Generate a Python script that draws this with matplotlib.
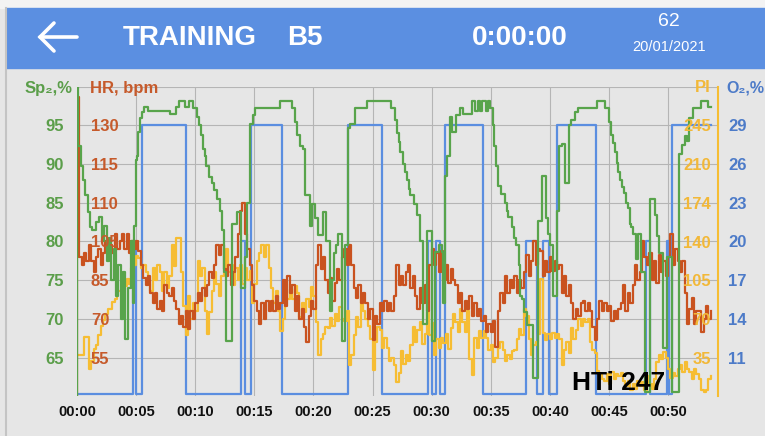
import numpy as np
import matplotlib
matplotlib.use("Agg")
import matplotlib.pyplot as plt
from matplotlib.lines import Line2D
from matplotlib.patches import Rectangle

# --- datos (tiempo en minutos) ---
time_ticks = [0, 5, 10, 15, 20, 25, 30, 35, 40, 45, 50]
time_labels = ["00:00", "00:05", "00:10", "00:15", "00:20", "00:25",
               "00:30", "00:35", "00:40", "00:45", "00:50"]

sp_ticks = [65, 70, 75, 80, 85, 90, 95]
hr_tick_labels = ["55", "70", "85", "105", "110", "115", "130"]
pi_ticks = [35, 70, 105, 140, 175, 210, 245]
pi_tick_labels = ["35", "70", "105", "140", "174", "210", "245"]
o2_ticks = [11, 14, 17, 20, 23, 26, 29]

# la escala HR de la app no es lineal: bpm -> nivel de la rejilla SpO2
hr_scale_bpm = [40, 55, 70, 85, 105, 110, 115, 130, 145]
hr_scale_pos = [60, 65, 70, 75, 80, 85, 90, 95, 100]

# SpO2 (%), escalones
sp_time = [0.00, 0.03, 0.12, 0.3, 0.5, 0.7, 0.9, 1.1, 1.3, 1.6,
           1.9, 2.1, 2.3, 2.5, 2.7, 2.9, 3.1, 3.3, 3.5, 3.7,
           3.9, 4.1, 4.35, 4.55, 4.7, 4.85, 4.95, 5.1, 5.2, 5.35,
           5.5, 5.7, 6.0, 7.9, 8.4, 8.6, 9.15, 9.45, 9.85, 10.15,
           10.3, 10.45, 10.65, 10.8, 10.95, 11.2, 11.45, 11.6, 11.85, 12.1,
           12.25, 12.45, 12.6, 13.1, 13.55, 13.9, 14.2, 14.4, 14.6, 14.85,
           15.1, 17.2, 18.2, 18.4, 18.6, 18.9, 19.1, 19.3, 19.5, 19.75,
           19.9, 20.1, 20.4, 20.8, 21.1, 21.4, 21.55, 21.7, 21.9, 22.1,
           22.4, 22.7, 22.95, 23.1, 23.5, 24.5, 26.6, 26.9, 27.05, 27.2,
           27.35, 27.6, 27.75, 27.9, 28.05, 28.2, 28.5, 28.8, 29.05, 29.3,
           29.6, 30.0, 30.3, 30.6, 30.85, 31.0, 31.1, 31.3, 31.55, 31.7,
           32.1, 32.4, 32.65, 33.4, 33.7, 33.9, 34.1, 34.3, 34.6, 34.75,
           34.95, 35.15, 35.3, 35.45, 35.6, 35.9, 36.2, 36.35, 36.5, 36.8,
           36.95, 37.1, 37.4, 37.5, 37.65, 37.8, 38.1, 38.6, 39.0, 39.3,
           39.65, 39.85, 40.0, 40.3, 40.6, 40.75, 41.0, 41.3, 41.6, 41.75,
           42.1, 42.4, 44.0, 44.7, 45.0, 45.2, 45.35, 45.5, 45.65, 45.8,
           45.95, 46.1, 46.25, 46.45, 46.6, 46.75, 46.9, 47.05, 47.25, 47.45,
           47.7, 48.05, 48.5, 48.9, 49.05, 49.2, 49.6, 49.9, 50.35, 50.95,
           51.15, 51.4, 51.6, 51.8, 52.1, 52.8, 53.4, 53.6]
sp_value = [60, 100, 92.4, 89.7, 88, 86, 83.8, 81.9, 81.5, 82.5,
            83.2, 80, 82, 77.5, 80.5, 75, 79, 73, 77, 70,
            76, 67.4, 74, 80, 72, 82, 90.5, 91, 94.2, 95.9,
            96.7, 97.4, 96.9, 96.5, 97.4, 98.2, 97.4, 98.2, 97.2, 96.1,
            95, 93.7, 92, 91, 89.8, 88.3, 87.5, 86.6, 85.5, 84,
            81.5, 76, 67.2, 82.3, 83.8, 74, 78, 85, 95.2, 96.3,
            97.2, 98.2, 97.2, 95.5, 93.7, 92.4, 92, 86, 86, 82,
            84.9, 83, 80.8, 83.8, 80, 71, 75, 78.5, 79.5, 81,
            67.2, 79.5, 94.6, 95.2, 97.2, 98.2, 97.2, 95.7, 94, 92.9,
            91.5, 90, 89, 87.9, 86.8, 86, 84.9, 83.4, 80, 69.4,
            81.4, 67.2, 78.7, 79.5, 78.7, 72, 88.5, 91, 96.1, 94.2,
            96.3, 97.2, 96.5, 98.2, 96.9, 98.2, 96.9, 98.2, 96.9, 98.2,
            97.2, 95, 92.4, 89.8, 87.2, 86.2, 85, 84, 83.2, 81.9,
            80.4, 79.5, 76.9, 73, 72.6, 70.9, 69.2, 62.3, 82.7, 88.5,
            83, 81, 79.5, 73, 84, 92.4, 92.6, 87.5, 95, 95.7,
            96.7, 97.2, 98.2, 97.2, 95.5, 93.7, 92.7, 91.6, 90.1, 89,
            88, 87, 86.3, 85, 84.3, 82.3, 81.9, 81, 77.8, 81,
            76, 60.5, 85.5, 83.4, 80.7, 78.5, 66.2, 78, 60.5, 91.3,
            92.5, 93.6, 93, 95.9, 97.2, 98.2, 97.4, 97.4]

# O2 (%), escalones
o2_time = [0, 4.70, 4.95, 5.46, 9.20, 13.87, 14.17, 14.68, 17.37, 22.95,
           25.78, 29.70, 30.03, 30.41, 30.75, 31.13, 34.32, 37.99, 38.89, 39.40,
           39.90, 40.58, 43.91, 48.10, 48.48, 49.87, 50.08, 50.30, 53.6]
o2_value = [8.2, 20, 8.2, 29, 8.2, 20, 8.2, 29, 8.2, 29,
            8.2, 20, 8.2, 20, 8.2, 29, 8.2, 20, 8.2, 20,
            8.2, 29, 8.2, 20, 8.2, 20, 8.2, 29, 29]

# HR (bpm): tres primeros puntos a t = 0, 0.02, 0.2 y luego cada 0.2 min
hr_bpm = [40, 141, 97,
          93, 99, 95, 103, 95, 89, 97, 101, 93, 99,
          105, 97, 103, 99, 106, 101, 105, 106, 101, 106,
          99, 105, 101, 105, 100, 93, 86, 83, 87, 80,
          76, 80, 74, 77, 73, 83, 80, 79, 82, 77,
          74, 68, 71, 67, 73, 66, 73, 70, 76, 80,
          77, 82, 79, 83, 89, 86, 93, 103, 98, 103,
          91, 87, 93, 83, 89, 97, 106, 109, 110, 106,
          101, 93, 83, 77, 73, 68, 76, 70, 77, 73,
          77, 73, 79, 74, 76, 85, 75, 87, 80, 83,
          73, 79, 70, 74, 67, 61, 71, 77, 74, 93,
          103, 91, 97, 85, 80, 86, 77, 84, 91, 85,
          97, 101, 93, 103, 93, 82, 78, 83, 76, 80,
          76, 70, 74, 62, 71, 68, 76, 73, 77, 73,
          76, 73, 79, 93, 83, 87, 83, 89, 93, 82,
          87, 79, 74, 82, 76, 83, 73, 93, 101, 93,
          99, 89, 100, 85, 93, 84, 91, 85, 83, 76,
          80, 73, 77, 74, 79, 71, 76, 71, 74, 69,
          71, 65, 68, 65, 69, 59, 73, 80, 76, 87,
          80, 85, 82, 87, 80, 85, 82, 89, 98, 87,
          95, 105, 93, 101, 100, 87, 95, 89, 97, 90,
          95, 91, 93, 80, 87, 79, 83, 76, 70, 74,
          71, 76, 77, 73, 76, 73, 67, 62, 70, 77,
          73, 76, 73, 75, 69, 73, 70, 74, 76, 83,
          73, 80, 76, 83, 93, 85, 89, 105, 97, 93,
          99, 85, 95, 84, 98, 89, 95, 87, 97, 106,
          93, 101, 95, 89, 95, 80, 68, 74, 78, 68,
          73, 73, 65, 70, 75, 70, 73]

# PI, cada 0.2 min desde t = 0.2
pi_value = [37, 37, 54, 54, 25, 32, 43, 46, 55, 64,
            69, 74, 79, 79, 85, 88, 95, 95, 100, 100,
            106, 102, 116, 119, 127, 125, 116, 119, 112, 102,
            95, 116, 105, 119, 112, 95, 112, 98, 109, 137,
            118, 143, 143, 112, 82, 55, 91, 70, 84, 77,
            122, 109, 116, 77, 56, 76, 95, 112, 102, 91,
            109, 112, 133, 112, 119, 101, 116, 105, 119, 102,
            116, 105, 113, 84, 102, 122, 130, 137, 126, 137,
            116, 98, 84, 95, 77, 59, 70, 102, 88, 97,
            88, 100, 93, 72, 84, 76, 88, 81, 99, 91,
            67, 37, 52, 56, 63, 62, 71, 64, 74, 68,
            81, 70, 68, 77, 28, 37, 55, 72, 63, 91,
            77, 70, 64, 52, 24, 49, 63, 60, 44, 53,
            44, 32, 35, 28, 13, 21, 41, 29, 37, 32,
            46, 63, 49, 60, 67, 47, 56, 76, 55, 66,
            37, 52, 44, 53, 48, 56, 43, 62, 74, 67,
            58, 79, 67, 58, 77, 34, 19, 53, 44, 59,
            53, 59, 53, 42, 46, 31, 35, 44, 49, 42,
            32, 37, 34, 41, 42, 52, 61, 55, 79, 73,
            52, 37, 46, 49, 56, 106, 57, 51, 56, 52,
            57, 53, 56, 52, 28, 42, 49, 39, 62, 52,
            60, 70, 64, 70, 67, 70, 49, 42, 39, 23,
            20, 16, 14, 20, 11, 22, 16, 20, 18, 21,
            14, 9, 14, 6, 11, 7, 14, 9, 13, 6,
            18, 11, 7, 16, 31, 37, 34, 40, 35, 25,
            17, 21, 18, 25, 28, 22, 31, 25, 22, 16,
            25, 20, 16, 6, 4, 6, 16, 18]

hr_time = np.r_[0, 0.02, 0.2, 0.4 + 0.2 * np.arange(len(hr_bpm) - 3)]
pi_time = 0.2 + 0.2 * np.arange(len(pi_value))

# --- estilo ---
SP_LIM, PI_LIM, O2_LIM = (60, 100), (0, 280), (8, 32)
T_MAX = 54.2
GREEN, RED, YELLOW, BLUE = "#58a44b", "#c9521f", "#f6bd33", "#5b8ee0"
GREEN_TXT, RED_TXT, YELLOW_TXT, BLUE_TXT = "#5b9e4a", "#c65a2b", "#f2b838", "#4d7bc8"
HEADER = "#5b8fe1"
BG = "#e6e6e6"
GRID = "#b5b5b5"
plt.rcParams["font.family"] = ["Liberation Sans", "DejaVu Sans"]
LBL = 12  # tamano de las etiquetas de los ejes

W, H = 765, 436
def fx(px):
    return px / W
def fy(py):
    return 1 - py / H

def to_main(vals, lim):
    # lleva una serie de su eje propio a la escala del eje SpO2
    vals = np.asarray(vals, dtype=float)
    return SP_LIM[0] + (vals - lim[0]) / (lim[1] - lim[0]) * (SP_LIM[1] - SP_LIM[0])

fig = plt.figure(figsize=(7.65, 4.36), dpi=100, facecolor=BG)

# --- cabecera ---
fig.add_artist(Rectangle((0, fy(8)), 1, 8 / H, transform=fig.transFigure,
                         color="#f3f3f3", zorder=0))
fig.add_artist(Rectangle((fx(6), fy(68)), 1, 60 / H, transform=fig.transFigure,
                         color=HEADER, zorder=0))
fig.add_artist(Line2D([fx(5.5), fx(5.5)], [0, fy(8)], transform=fig.transFigure,
                      color="#c4c4c4", lw=1.5))
fig.add_artist(Line2D([fx(40), fx(77)], [fy(37), fy(37)], transform=fig.transFigure,
                      color="white", lw=2.6, solid_capstyle="round"))
fig.add_artist(Line2D([fx(54), fx(40), fx(54)], [fy(23), fy(37), fy(51)],
                      transform=fig.transFigure, color="white", lw=2.6,
                      solid_capstyle="round", solid_joinstyle="miter"))
fig.text(fx(123), fy(38), "TRAINING", color="white", fontsize=20, fontweight="bold",
         ha="left", va="center")
fig.text(fx(287), fy(38), "B5", color="white", fontsize=20, fontweight="bold",
         ha="left", va="center")
fig.text(fx(520), fy(38), "0:00:00", color="white", fontsize=20, fontweight="bold",
         ha="center", va="center")
fig.text(fx(669), fy(22), "62", color="white", fontsize=14, ha="center", va="center")
fig.text(fx(669), fy(47), "20/01/2021", color="white", fontsize=10.5, ha="center", va="center")

# --- grafica ---
ax = fig.add_axes([fx(77), fy(396.3), (717.7 - 77) / W, (396.3 - 86.7) / H])
ax.set_facecolor("none")
ax.set_xlim(0, T_MAX)
ax.set_ylim(*SP_LIM)

ax.step(o2_time, to_main(o2_value, O2_LIM), where="post", color=BLUE, lw=1.6, zorder=2)
ax.step(pi_time, to_main(pi_value, PI_LIM), where="post", color=YELLOW, lw=1.6, zorder=3)
ax.step(hr_time, np.interp(hr_bpm, hr_scale_bpm, hr_scale_pos), where="post",
        color=RED, lw=1.6, zorder=4)
ax.step(sp_time, sp_value, where="post", color=GREEN, lw=1.6, zorder=5)

ax.set_xticks(time_ticks, time_labels)
ax.set_yticks(sp_ticks)
ax.grid(True, color=GRID, lw=0.8, zorder=0)
ax.axhline(SP_LIM[1], color=GRID, lw=0.8, zorder=0)
ax.set_axisbelow(True)
for s in ax.spines.values():
    s.set_visible(False)
ax.tick_params(axis="x", length=0, pad=6, labelsize=10.5, labelcolor="#111111")
ax.tick_params(axis="y", length=0, pad=9.5, labelsize=LBL, labelcolor=GREEN_TXT)
for lbl in ax.get_xticklabels() + ax.get_yticklabels():
    lbl.set_fontweight("bold")

# HR: etiquetas dentro del area, a la izquierda
ax_hr = ax.twinx()
ax_hr.set_ylim(*SP_LIM)
ax_hr.set_yticks(sp_ticks, hr_tick_labels)
ax_hr.yaxis.tick_left()
ax_hr.tick_params(axis="y", length=0, pad=-10, labelsize=LBL, labelcolor=RED_TXT)
for lbl in ax_hr.get_yticklabels():
    lbl.set_ha("left")
    lbl.set_fontweight("bold")

# PI: etiquetas dentro del area, pegadas al eje derecho amarillo
ax_pi = ax.twinx()
ax_pi.set_ylim(*PI_LIM)
ax_pi.set_yticks(pi_ticks, pi_tick_labels)
ax_pi.tick_params(axis="y", length=0, pad=-4.8, labelsize=LBL, labelcolor=YELLOW_TXT)
for lbl in ax_pi.get_yticklabels():
    lbl.set_ha("right")
    lbl.set_fontweight("bold")

# O2: etiquetas fuera, a la derecha
ax_o2 = ax.twinx()
ax_o2.set_ylim(*O2_LIM)
ax_o2.set_yticks(o2_ticks)
ax_o2.tick_params(axis="y", length=0, pad=7.6, labelsize=LBL, labelcolor=BLUE_TXT)
for lbl in ax_o2.get_yticklabels():
    lbl.set_fontweight("bold")

for a in (ax_hr, ax_pi, ax_o2):
    for s in a.spines.values():
        s.set_visible(False)
ax_pi.spines["right"].set_visible(True)
ax_pi.spines["right"].set_color(YELLOW)
ax_pi.spines["right"].set_linewidth(1.5)

# titulos de los ejes
fig.text(fx(73), fy(88), "Sp₂,%", color=GREEN_TXT, fontsize=LBL, fontweight="bold",
         ha="right", va="center")
fig.text(fx(90), fy(88), "HR, bpm", color=RED_TXT, fontsize=LBL, fontweight="bold",
         ha="left", va="center")
fig.text(fx(711), fy(88), "PI", color=YELLOW_TXT, fontsize=LBL, fontweight="bold",
         ha="right", va="center")
fig.text(fx(726), fy(88), "O₂,%", color=BLUE_TXT, fontsize=11.5, fontweight="bold",
         ha="left", va="center")

fig.text(fx(572), fy(383), "HTi 247", color="black", fontsize=19, fontweight="bold",
         ha="left", va="center")

fig.savefig("out.png", dpi=100, facecolor=fig.get_facecolor())
